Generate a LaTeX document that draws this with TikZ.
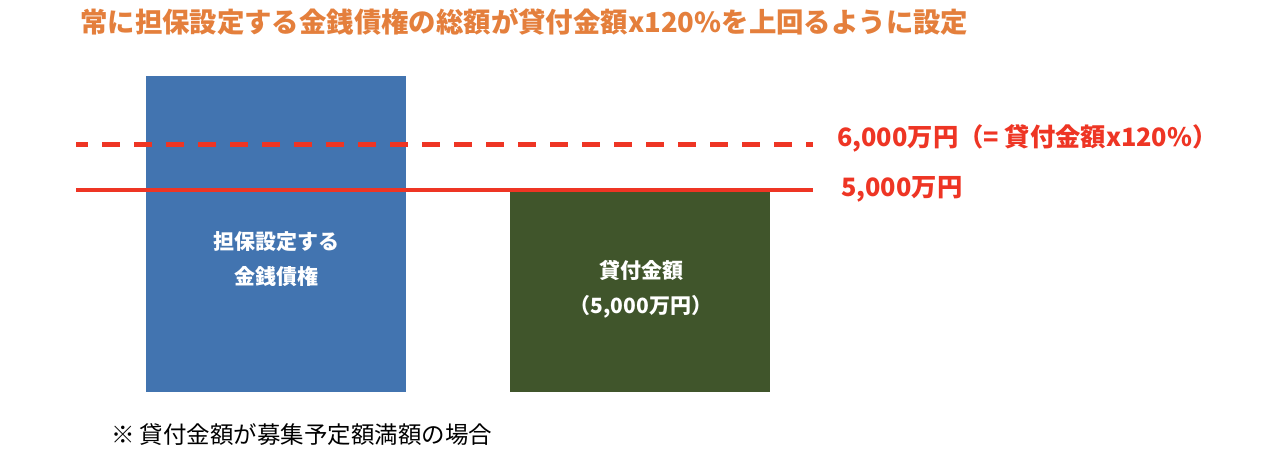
\documentclass[tikz,border=0pt]{standalone}
\usepackage{fontspec}
\setmainfont{Noto Sans CJK JP}
\newfontfamily\jp{Noto Sans CJK JP}
\definecolor{titleor}{HTML}{E47F3C}
\definecolor{barblue}{HTML}{4274B0}
\definecolor{bargreen}{HTML}{40552B}
\definecolor{linered}{HTML}{EE3524}
\tikzset{
  bar/.style={draw=none, inner sep=0pt, anchor=north west},
  bartext/.style={text=white, font=\jp\bfseries\fontsize{21}{35}\selectfont, align=center, inner sep=0pt},
  redlabel/.style={text=linered, font=\jp\bfseries\fontsize{25.3}{30}\selectfont, anchor=west, inner sep=0pt},
  level/.style={draw=linered, line width=4.7pt},
  target/.style={level, dash pattern=on 18pt off 14pt, dash phase=6pt},
}
\begin{document}
\begin{tikzpicture}[x=1pt, y=-1pt]
\useasboundingbox (0,0) rectangle (1262,454);
% title
\node[anchor=west, inner sep=0pt, text=titleor, font=\jp\bfseries\fontsize{27.4}{30}\selectfont] (title) at (80,22) {常に担保設定する金銭債権の総額が貸付金額x120\%を上回るように設定};
% bars
\node[bar, fill=barblue, minimum width=260pt, minimum height=316pt] (blue) at (146,76) {};
\node[bar, fill=bargreen, minimum width=260pt, minimum height=200pt] (green) at (510,192) {};
\node[bartext] (bluetxt) at (276,259) {担保設定する\\金銭債権};
\node[bartext] (greentxt) at (641,289) {貸付金額\\（5,000万円）};
% level lines
\coordinate (d1) at (76,144.5);
\coordinate (d2) at (813,144.5);
\coordinate (s1) at (76,190);
\coordinate (s2) at (813,190);
\draw[target] (d1) -- (d2);
\draw[level] (s1) -- (s2);
\node[redlabel] (lab6) at (837,138) {6,000万円（= 貸付金額x120\%）};
\node[redlabel] (lab5) at (841,189) {5,000万円};
% footnote
\node[anchor=west, inner sep=0pt, font=\jp\fontsize{23.5}{27}\selectfont] (note) at (111,435) {※ 貸付金額が募集予定額満額の場合};
\end{tikzpicture}
\end{document}
